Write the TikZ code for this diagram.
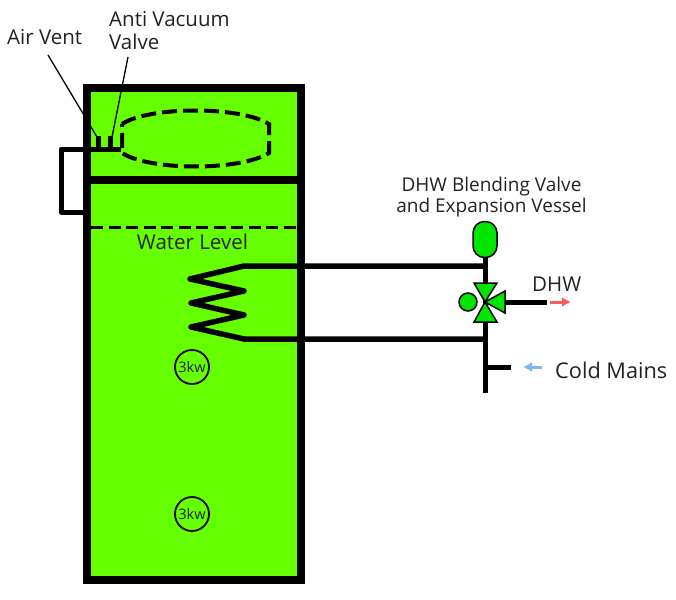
\documentclass[tikz,border=0pt]{standalone}
\usepackage{fontspec}
\setmainfont{Open Sans}
\definecolor{tank}{HTML}{66FF00}
\definecolor{valve}{HTML}{00E600}
\definecolor{txt}{HTML}{222222}
\definecolor{hotflow}{HTML}{FF5A5A}
\definecolor{coldflow}{HTML}{7FB5F5}
\usetikzlibrary{arrows.meta}
\tikzset{
  pipe/.style={line width=5pt},
  wall/.style={line width=8pt},
  leader/.style={line width=1.3pt},
  lbl/.style={text=txt,font=\fontsize{20.5}{23}\selectfont,inner sep=0pt,align=left},
  heater/.style={circle,draw=black,line width=1.8pt,minimum size=34pt,inner sep=0pt,font=\fontsize{14.5}{17}\selectfont,text=txt},
  valvepart/.style={draw=black,line width=1.5pt,fill=valve,line join=miter},
  flow/.style={line width=3pt,-{Latex[length=9pt,width=10pt]}},
}
\begin{document}
\begin{tikzpicture}[x=1pt,y=-1pt]
\useasboundingbox (0,0) rectangle (676,599);
% tank
\fill[tank] (87,88) rectangle (300.5,580);
\coordinate (avL) at (87,149);
\coordinate (avR) at (121,149);
\coordinate (av1) at (98.5,136);
\coordinate (av1b) at (98.5,149);
\coordinate (av2) at (110.5,136);
\coordinate (av2b) at (110.5,149);
\coordinate (ovT) at (87,149);
\coordinate (ovB) at (87,212);
\coordinate (ov1) at (61,149);
\coordinate (ov2) at (61,212);
% overflow loop
\draw[pipe,line join=round] (ovT) -- (ov1) -- (ov2) -- (ovB);
% air vent and valve
\draw[pipe] (avL) -- (avR);
\draw[pipe] (av1) -- (av1b);
\draw[pipe] (av2) -- (av2b);
% walls
\draw[wall,line join=miter] (87,88) rectangle (300.5,580);
\draw[wall] (83,180) -- (305,180);
% leaders
\coordinate (avA) at (48,55);
\coordinate (avvA) at (128,57);
\draw[leader] (avA) -- (97,137);
\draw[leader] (avvA) -- (112,137);
% dashed vessel
\draw[line width=4pt,dash pattern=on 15pt off 6pt] (122,124) .. controls (150,106) and (240,106) .. (269,124) -- (269,153) .. controls (240,171) and (150,171) .. (122,153) -- cycle;
% water level
\draw[line width=3.5pt,dash pattern=on 12pt off 5.5pt] (91,227.5) -- (296,227.5);
% junctions
\coordinate (j1) at (485,266);
\coordinate (j2) at (485,339);
\coordinate (j3) at (485,367);
\coordinate (c) at (485,302);
\coordinate (pipeEnd) at (485,393);
\coordinate (dhwE) at (547,302);
\coordinate (coldE) at (511,367);
% coil
\draw[line width=5.5pt,line join=round,line cap=round] (j1) -- (244,266) -- (190,279) -- (244,291) -- (191,303) -- (244,315) -- (191,327) -- (244,339) -- (j2);
% vertical pipes
\draw[pipe] (485,250) -- (pipeEnd);
\draw[pipe] (j3) -- (coldE);
\draw[pipe] (c) -- (dhwE);
% expansion vessel
\node[draw=black,line width=1.5pt,fill=valve,rounded corners=11.5pt,minimum width=24pt,minimum height=36pt,inner sep=0pt] (vessel) at (485,239.5) {};
% blending valve
\draw[valvepart] (c) -- (474,283) -- (497,283) -- cycle;
\draw[valvepart] (c) -- (474,322) -- (497,322) -- cycle;
\draw[valvepart] (c) -- (505,291) -- (505,313) -- cycle;
\node[circle,valvepart,minimum size=18pt,inner sep=0pt] (act) at (468,302) {};
% heaters
\node[heater] (h1) at (192,367) {3kw};
\node[heater] (h2) at (192,514) {3kw};
% flow arrows
\coordinate (r1) at (550,302);
\coordinate (r2) at (571,302);
\coordinate (b1) at (542,367);
\coordinate (b2) at (523,367);
\draw[flow,color=hotflow] (r1) -- (r2);
\draw[flow,color=coldflow] (b1) -- (b2);
% labels
\node[lbl,anchor=west] (airvent) at (7,37) {Air Vent};
\node[lbl,anchor=west] (antivac) at (109,30.5) {Anti Vacuum\\Valve};
\node[lbl,anchor=center] (water) at (192.5,242) {Water Level};
\node[lbl,anchor=center,align=center,font=\fontsize{19}{21}\selectfont] (blend) at (491.5,197.5) {DHW Blending Valve\\and Expansion Vessel};
\node[lbl,anchor=west] (dhw) at (532,284) {DHW};
\node[lbl,anchor=west,font=\fontsize{21.7}{24}\selectfont] (cold) at (555,370) {Cold Mains};
\end{tikzpicture}
\end{document}
